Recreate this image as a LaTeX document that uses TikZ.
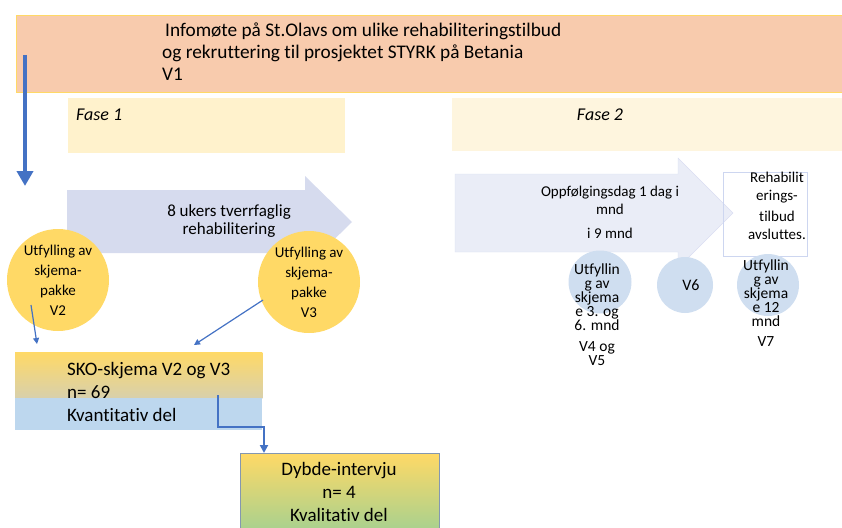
\documentclass[tikz,border=0pt]{standalone}
\usepackage{fontspec}
\setmainfont{Carlito}[Ligatures=NoCommon]
\usetikzlibrary{arrows.meta}

\definecolor{bannerpeach}{RGB}{248,203,173}
\definecolor{bannergold}{RGB}{255,217,102}
\definecolor{phaseyellow}{RGB}{255,242,204}
\definecolor{phasepale}{RGB}{254,245,222}
\definecolor{rehabviolet}{RGB}{214,219,238}
\definecolor{followpale}{RGB}{234,237,247}
\definecolor{followedge}{RGB}{218,223,242}
\definecolor{endedge}{RGB}{205,214,240}
\definecolor{visitgold}{RGB}{255,217,102}
\definecolor{followblue}{RGB}{207,222,240}
\definecolor{linkblue}{RGB}{68,114,196}
\definecolor{skoblue}{RGB}{189,215,238}
\definecolor{skogrey}{RGB}{216,208,172}
\definecolor{dybdemid}{RGB}{214,206,165}
\definecolor{dybdegreen}{RGB}{169,209,142}
\definecolor{dybdegrey}{RGB}{132,151,176}

\begin{document}
\begin{tikzpicture}[x=1pt,y=-1pt]
  \def\bigfont{\fontsize{18}{22}\selectfont}
  \def\midfont{\fontsize{15}{18}\selectfont}
  \def\smallfont{\fontsize{15.5}{14}\selectfont}
  \tikzset{
    plain text/.style={inner sep=0pt, align=center},
    phase box/.style={fill=phaseyellow, minimum height=55pt, anchor=north west, inner sep=0pt},
    visit/.style={circle, fill=visitgold, minimum size=102pt, inner sep=0pt},
    follow visit/.style={circle, fill=followblue, inner sep=0pt},
    link/.style={draw=linkblue, line width=1.2pt, -{Triangle[length=6pt,width=6pt]}},
    elbow/.style={draw=linkblue, line width=2pt, -{Triangle[length=8pt,width=8pt]}},
  }
  \useasboundingbox (0,0) rectangle (842,527);

  % heading
  \node[draw=bannergold, fill=bannerpeach, anchor=north west, minimum width=826pt,
        minimum height=77pt, inner sep=0pt] (banner) at (16,15) {};
  \node[plain text, align=left, anchor=west, font=\fontsize{19.3}{22}\selectfont] (info) at (162,52)
    {\hspace{3pt}Infomøte på St.Olavs om ulike rehabiliteringstilbud\\
     og rekruttering til prosjektet STYRK på Betania\\V1};
  \coordinate (drop) at (25,186);
  \draw[linkblue, line width=4pt, -{Triangle[length=15pt,width=16pt]}]
    ([shift={(9,40)}]banner.north west) -- (drop);

  % phases
  \node[phase box, minimum width=277pt] (fase1) at (68,98) {};
  \node[plain text, anchor=west, font=\bigfont\itshape] (fase1 label) at (76,115) {Fase 1};
  \node[phase box, fill=phasepale, minimum width=390pt, minimum height=53pt] (fase2) at (452,98) {};
  \node[plain text, font=\bigfont\itshape] (fase2 label) at (600,115) {Fase 2};

  % phase 1
  \fill[rehabviolet] (67,190) -- (305,190) -- (305,176) -- (352,222) -- (305,268)
    -- (305,253) -- (67,253) -- cycle;
  \node[plain text, font=\fontsize{17}{17.5}\selectfont] (rehab) at (229,221)
    {8 ukers tverrfaglig\\rehabilitering};
  \foreach \name/\x/\y/\tag in {visit2/58/280/V2, visit3/309/282/V3} {
    \node[visit] (\name) at (\x,\y) {};
    \node[plain text, font=\fontsize{15}{20}\selectfont] (\name text) at (\name)
      {Utfylling av\\skjema-\\pakke\\\tag};
  }

  \node[anchor=north west, minimum width=247pt, minimum height=78pt, inner sep=0pt] (sko) at (15,352) {};
  \shade[top color=visitgold, bottom color=skogrey] (sko.north west) rectangle ([yshift=-46pt]sko.north east);
  \fill[skoblue] ([yshift=-46pt]sko.north west) rectangle (sko.south east);
  \node[plain text, align=left, anchor=west, font=\fontsize{19}{23}\selectfont] (sko text) at (67,392)
    {SKO-skjema V2 og V3\\n= 69\\Kvantitativ del};

  \node[anchor=north west, draw=dybdegrey, top color=visitgold, middle color=dybdemid,
        bottom color=dybdegreen, minimum width=199pt, minimum height=76pt, inner sep=0pt] (dybde) at (240,453) {};
  \node[plain text, font=\fontsize{19}{23}\selectfont] (dybde text) at (339,492)
    {Dybde-intervju\\n= 4\\Kvalitativ del};

  \draw[link] ([shift={(-27,25)}]visit2.center) -- ([shift={(22,-8)}]sko.north west);
  \draw[link] ([shift={(-46,18)}]visit3.center) -- ([shift={(179,-7)}]sko.north west);
  \draw[elbow] ([shift={(203,43)}]sko.north west) |- ([shift={(24,-26)}]dybde.north west)
    -- ([xshift=24pt]dybde.north west);

  % phase 2
  \filldraw[fill=followpale, draw=followedge] (455,174) -- (678,174) -- (678,158) -- (733,213)
    -- (678,268) -- (678,252) -- (455,252) -- cycle;
  \node[plain text, anchor=north, font=\midfont] (followup) at (610,186)
    {Oppfølgingsdag 1 dag i\\mnd\\[6pt]i 9 mnd};
  \node[draw=endedge, anchor=north west, minimum width=84pt, minimum height=84pt, inner sep=0pt] (endbox) at (723,172) {};
  \node[plain text, anchor=north, font=\midfont] (endbox text) at (777,172)
    {Rehabilit\\erings-\\[3pt]tilbud\\avsluttes.};

  \node[follow visit, minimum size=63pt] (visit45) at (600,282) {};
  \node[plain text, anchor=north, font=\smallfont] (visit45 text) at (597,264)
    {Utfyllin\\g av\\skjema\\e 3. og\\6. mnd\\[7pt]V4 og\\V5};
  \node[follow visit, minimum size=56pt] (visit6) at (685,285) {};
  \node[plain text, font=\fontsize{16}{18}\selectfont] (visit6 text) at (691,285) {V6};
  \node[follow visit, minimum size=62pt] (visit7) at (768,285) {};
  \node[plain text, anchor=north, font=\smallfont] (visit7 text) at (766,260)
    {Utfyllin\\g av\\skjema\\e 12\\mnd\\[6pt]V7};
\end{tikzpicture}
\end{document}
